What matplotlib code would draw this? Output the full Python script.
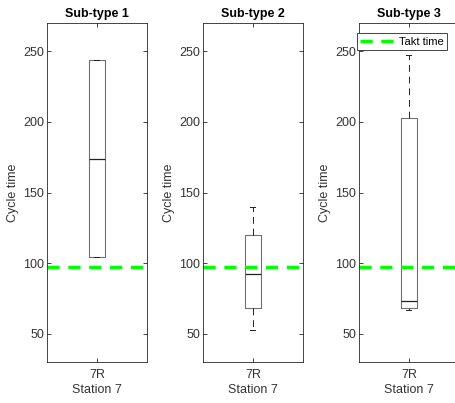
import matplotlib
matplotlib.use("Agg")
import matplotlib.pyplot as plt

plt.rcParams["font.family"] = ["Liberation Sans", "DejaVu Sans"]

# box statistics per sub-type
titles = ["Sub-type 1", "Sub-type 2", "Sub-type 3"]
station_tick = "7R"
q1 = [104, 68.5, 68.5]
medians = [174, 92.5, 73]
q3 = [244, 120, 202.5]
whisk_lo = [104, 53, 67]
whisk_hi = [244, 139.5, 247]
takt_time = 97

W, H = 456, 403
fig = plt.figure(figsize=(W / 100, H / 100), dpi=100)

lefts = [47, 203, 359]
axes_w, bottom, top = 100, 362, 23
spine_col = "#262626"
text_col = "#333333"

for i, title in enumerate(titles):
    ax = fig.add_axes([lefts[i] / W, (H - bottom) / H, axes_w / W, (bottom - top) / H])
    stats = [{
        "q1": q1[i], "med": medians[i], "q3": q3[i],
        "whislo": whisk_lo[i], "whishi": whisk_hi[i], "fliers": [],
    }]
    ax.bxp(
        stats, positions=[1], widths=0.16, showfliers=False,
        boxprops=dict(color="#707070", linewidth=0.8),
        medianprops=dict(color="#222222", linewidth=0.9),
        whiskerprops=dict(color="#222222", linewidth=0.7, linestyle=(0, (7, 5))),
        capprops=dict(color="#222222", linewidth=0.7),
        capwidths=0.05,
    )
    ax.axhline(takt_time, color=(0, 1, 0), linewidth=2.5, linestyle=(0, (3.5, 2.5)), label="Takt time")
    ax.set_xlim(0.5, 1.5)
    ax.set_ylim(30, 270)
    ax.set_yticks([50, 100, 150, 200, 250])
    ax.set_xticks([1])
    ax.set_xticklabels([station_tick])
    ax.tick_params(direction="in", length=3, width=0.6, colors=spine_col, labelsize=9,
                   top=True, right=True, labelcolor=text_col)
    ax.tick_params(axis="y", pad=2)
    ax.tick_params(axis="x", pad=5)
    for sp in ax.spines.values():
        sp.set_color(spine_col)
        sp.set_linewidth(0.6)
    ax.set_title(title, fontsize=9, fontweight="bold", pad=4)
    ax.set_ylabel("Cycle time", fontsize=9, color=text_col, labelpad=3)
    ax.set_xlabel("Station 7", fontsize=9, color=text_col, labelpad=2)
    if i == 2:
        leg = ax.legend(loc="upper left", bbox_to_anchor=(-0.02, 0.97), borderaxespad=0,
                        fontsize=8, fancybox=False, framealpha=1, handlelength=3.2,
                        borderpad=0.3, handletextpad=0.3)
        leg.get_frame().set_edgecolor("#262626")
        leg.get_frame().set_linewidth(0.6)

fig.savefig("out.png", dpi=100)
